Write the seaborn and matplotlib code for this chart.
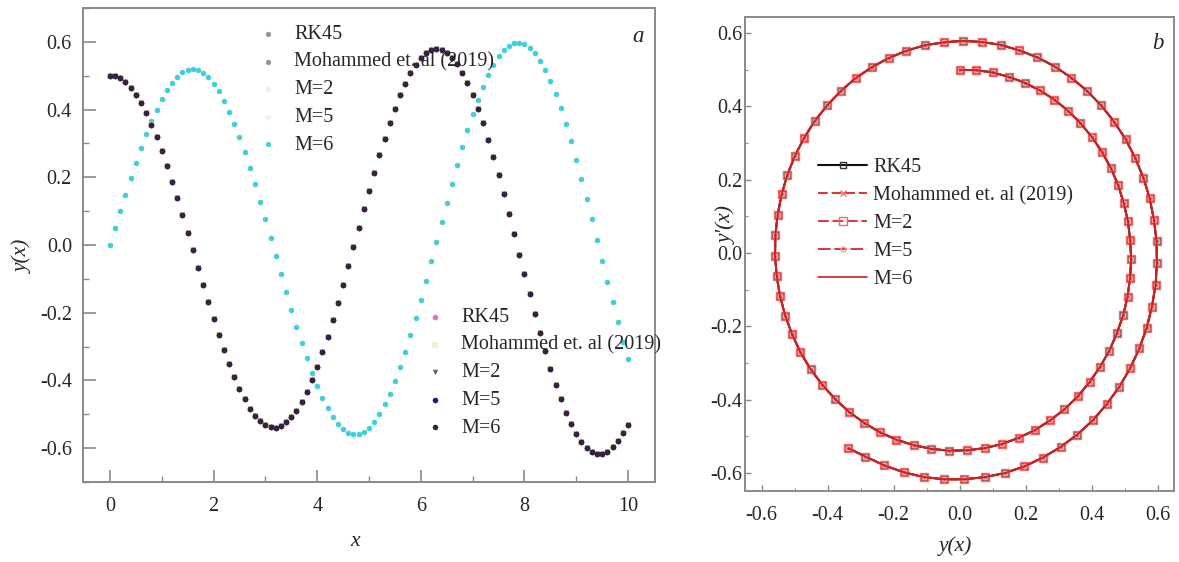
import numpy as np
import pandas as pd
import matplotlib
matplotlib.use("Agg")
import matplotlib.pyplot as plt
import seaborn as sns
from matplotlib.ticker import MultipleLocator, FormatStrFormatter

# ---------------- data ----------------
x_vals = np.round(np.arange(0, 10.05, 0.1), 1)

# y(x) (cyan series in panel a, horizontal axis in panel b)
y_vals = [0.000, 0.050, 0.100, 0.149, 0.197, 0.243, 0.287, 0.328, 0.366, 0.400,
          0.431, 0.458, 0.480, 0.497, 0.510, 0.517, 0.520, 0.517, 0.509, 0.496,
          0.477, 0.454, 0.426, 0.394, 0.358, 0.318, 0.275, 0.228, 0.179, 0.128,
          0.076, 0.022, -0.032, -0.085, -0.139, -0.191, -0.241, -0.289, -0.335, -0.377,
          -0.416, -0.451, -0.482, -0.507, -0.528, -0.544, -0.554, -0.559, -0.558, -0.551,
          -0.539, -0.522, -0.499, -0.471, -0.439, -0.401, -0.360, -0.315, -0.266, -0.215,
          -0.161, -0.105, -0.048, 0.010, 0.068, 0.125, 0.181, 0.236, 0.289, 0.339,
          0.386, 0.429, 0.468, 0.503, 0.532, 0.557, 0.576, 0.589, 0.597, 0.598,
          0.594, 0.583, 0.567, 0.545, 0.517, 0.484, 0.446, 0.404, 0.357, 0.306,
          0.252, 0.196, 0.137, 0.077, 0.015, -0.046, -0.108, -0.169, -0.228, -0.285,
          -0.338]

# y'(x) (purple series in panel a, vertical axis in panel b)
yp_vals = [0.500, 0.499, 0.493, 0.481, 0.465, 0.444, 0.419, 0.389, 0.355, 0.318,
           0.277, 0.233, 0.187, 0.138, 0.088, 0.037, -0.015, -0.067, -0.119, -0.169,
           -0.218, -0.266, -0.310, -0.352, -0.391, -0.426, -0.456, -0.483, -0.504, -0.521,
           -0.532, -0.538, -0.539, -0.534, -0.524, -0.509, -0.489, -0.463, -0.433, -0.398,
           -0.359, -0.317, -0.271, -0.222, -0.171, -0.117, -0.063, -0.007, 0.049, 0.105,
           0.160, 0.213, 0.265, 0.314, 0.360, 0.403, 0.442, 0.477, 0.507, 0.532,
           0.552, 0.567, 0.575, 0.579, 0.576, 0.568, 0.553, 0.534, 0.509, 0.478,
           0.443, 0.403, 0.359, 0.311, 0.260, 0.206, 0.150, 0.091, 0.032, -0.028,
           -0.087, -0.146, -0.204, -0.260, -0.314, -0.365, -0.412, -0.456, -0.495, -0.529,
           -0.558, -0.582, -0.600, -0.611, -0.617, -0.617, -0.611, -0.598, -0.579, -0.555,
           -0.532]

methods = ["RK45", "Mohammed et. al (2019)", "M=2", "M=5", "M=6"]
x_ticks_a = [0, 2, 4, 6, 8, 10]
y_ticks = [-0.6, -0.4, -0.2, 0.0, 0.2, 0.4, 0.6]

# ---------------- style ----------------
sns.set_style("white")
plt.rcParams["font.family"] = ["Liberation Serif", "DejaVu Serif"]
plt.rcParams["axes.unicode_minus"] = False

FS = 14.5
spine_c = "#8a8a8a"

fig = plt.figure(figsize=(11.79, 5.62), dpi=100)
ax1 = fig.add_axes([0.0704, 0.1423, 0.4852, 0.8434])
ax2 = fig.add_axes([0.6319, 0.1263, 0.3639, 0.8434])

# ---------------- panel a ----------------
top_cols = ["#8a9696", "#a08c98", "#eeeeee", "#f2f2f2", "#36d2de"]
top_mk = ["o", "o", "o", "o", "o"]
bot_cols = ["#e070c0", "#f2f2c8", "#6a6a4a", "#1c1c78", "#38203f"]
bot_mk = ["o", "s", "v", "o", "o"]

for m, c, mk in zip(methods, top_cols, top_mk):
    sns.scatterplot(x=x_vals, y=y_vals, ax=ax1, color=c, marker=mk, s=14,
                    linewidth=0, label=m, legend=True)
for m, c, mk in zip(methods, bot_cols, bot_mk):
    sns.scatterplot(x=x_vals, y=yp_vals, ax=ax1, color=c, marker=mk, s=16,
                    linewidth=0, label=m, legend=True)

h, l = ax1.get_legend_handles_labels()
if ax1.get_legend() is not None:
    ax1.get_legend().remove()
leg_kw = dict(frameon=False, fontsize=FS, handlelength=1.0, handletextpad=0.8,
              borderpad=0, borderaxespad=0, labelspacing=0.42, loc="upper left",
              markerscale=1.0)
leg1 = ax1.legend(h[:5], l[:5], bbox_to_anchor=(0.306, 0.964), **leg_kw)
ax1.add_artist(leg1)
ax1.legend(h[5:], l[5:], bbox_to_anchor=(0.598, 0.367), **leg_kw)

ax1.set_xlim(-0.52, 10.52)
ax1.set_ylim(-0.7, 0.7)
ax1.set_xticks(x_ticks_a)
ax1.set_yticks(y_ticks)
ax1.xaxis.set_minor_locator(MultipleLocator(1))
ax1.yaxis.set_minor_locator(MultipleLocator(0.1))
ax1.yaxis.set_major_formatter(FormatStrFormatter("%.1f"))
ax1.tick_params(which="major", direction="in", length=9, width=1.2, color=spine_c,
                labelsize=FS, bottom=True, left=True)
ax1.tick_params(which="minor", direction="in", length=4.5, width=1.0, color=spine_c,
                bottom=True, left=True)
ax1.tick_params(axis="x", which="major", pad=11)
ax1.tick_params(axis="y", which="major", pad=8)
ax1.set_xlabel("x", fontsize=FS + 1, fontstyle="italic")
ax1.set_ylabel("y(x)", fontsize=FS + 1, fontstyle="italic")
ax1.xaxis.set_label_coords(0.476, -0.105)
ax1.yaxis.set_label_coords(-0.088, 0.477)
ax1.text(0.97, 0.939, "a", transform=ax1.transAxes, fontsize=FS + 2,
         fontstyle="italic", ha="center", va="center")

# ---------------- panel b ----------------
df_b = pd.DataFrame({"y": y_vals, "yp": yp_vals})
line_specs = [
    ("RK45", "#111111", "-", "s", "none", "#333333", 4.5, 1.5),
    ("Mohammed et. al (2019)", "#e23030", (0, (5, 2)), "x", "#f07070", "#f07070", 4, 1.4),
    ("M=2", "#e02a2a", (0, (6, 2)), "s", "none", "#f06868", 5.5, 1.3),
    ("M=5", "#d82828", (0, (7, 2)), "o", "none", "#f4a0a0", 3.5, 1.3),
    ("M=6", "#cc2020", "-", None, None, None, 0, 1.2),
]
for lab, col, ls, mk, mfc, mec, ms, lw in line_specs:
    kw = dict(color=col, linestyle=ls, linewidth=lw)
    if mk is not None:
        kw.update(marker=mk, markerfacecolor=mfc, markeredgecolor=mec,
                  markersize=ms, markeredgewidth=1.0)
    sns.lineplot(data=df_b, x="y", y="yp", sort=False, estimator=None, ax=ax2,
                 label=lab, **kw)

h2, l2 = ax2.get_legend_handles_labels()
if ax2.get_legend() is not None:
    ax2.get_legend().remove()
ax2.legend(h2, l2, frameon=False, fontsize=FS, handlelength=2.45,
           handletextpad=0.3, borderpad=0, borderaxespad=0, labelspacing=0.44,
           loc="upper left", bbox_to_anchor=(0.170, 0.703))

ax2.set_xlim(-0.65, 0.65)
ax2.set_ylim(-0.649, 0.644)
ax2.set_xticks(y_ticks)
ax2.set_yticks(y_ticks)
ax2.xaxis.set_minor_locator(MultipleLocator(0.1))
ax2.yaxis.set_minor_locator(MultipleLocator(0.1))
ax2.xaxis.set_major_formatter(FormatStrFormatter("%.1f"))
ax2.yaxis.set_major_formatter(FormatStrFormatter("%.1f"))
ax2.tick_params(which="major", direction="in", length=4, width=1.0, color=spine_c,
                labelsize=FS, bottom=True, left=True)
ax2.tick_params(which="minor", direction="in", length=2.5, width=0.8, color=spine_c,
                bottom=True, left=True)
ax2.tick_params(axis="x", which="major", pad=11)
ax2.tick_params(axis="y", which="major", pad=2)
ax2.set_xlabel("y(x)", fontsize=FS + 1, fontstyle="italic")
ax2.set_ylabel("y'(x)", fontsize=FS + 1, fontstyle="italic")
ax2.xaxis.set_label_coords(0.49, -0.095)
ax2.yaxis.set_label_coords(-0.020, 0.561)
ax2.text(0.963, 0.945, "b", transform=ax2.transAxes, fontsize=FS + 2,
         fontstyle="italic", ha="center", va="center")

for ax in (ax1, ax2):
    for sp in ax.spines.values():
        sp.set_color(spine_c)
        sp.set_linewidth(1.4)
        sp.set_visible(True)

fig.savefig("out.png", dpi=100)
